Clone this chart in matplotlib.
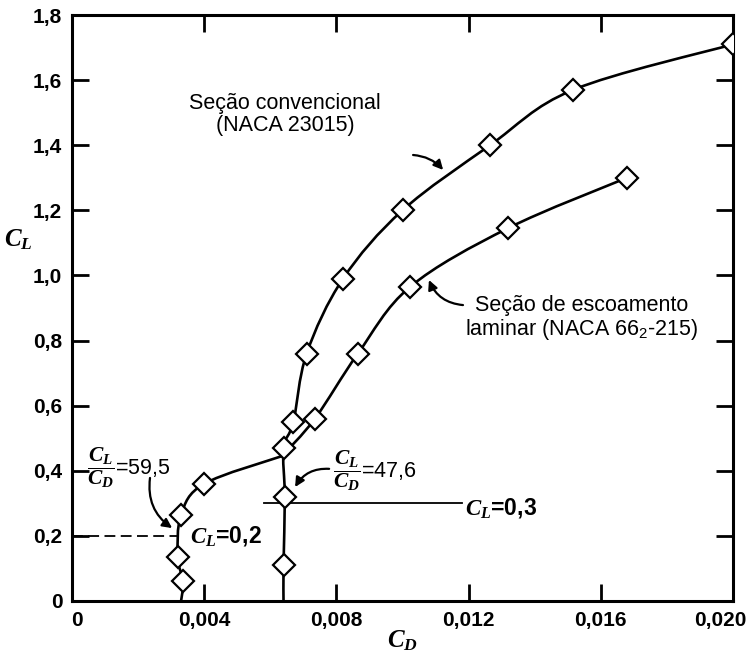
import matplotlib
matplotlib.use("Agg")
import matplotlib.pyplot as plt
from matplotlib.path import Path
from matplotlib.patches import PathPatch
from matplotlib.transforms import ScaledTranslation

plt.rcParams['font.family'] = ['Liberation Sans', 'DejaVu Sans']
plt.rcParams['mathtext.fontset'] = 'custom'
plt.rcParams['mathtext.it'] = 'Liberation Serif:italic:bold'
plt.rcParams['mathtext.rm'] = 'Liberation Sans'
plt.rcParams['mathtext.bf'] = 'Liberation Sans:bold'

# Conventional section (NACA 23015): curve starts on the axis (index 0 has no marker)
conv_cd = [0.0064, 0.0064, 0.00644, 0.0064, 0.0067, 0.0071, 0.0082, 0.0100, 0.01265, 0.01516, 0.0200]
conv_cl = [0.0, 0.11, 0.32, 0.47, 0.55, 0.76, 0.99, 1.20, 1.40, 1.57, 1.71]
conv_marks = [1, 2, 3, 4, 5, 6, 7, 8, 9, 10]
conv_pieces = [(0, 10)]

# Laminar flow section (NACA 66_2-215): index 0 is the axis start, index 5 the bucket corner
lam_cd = [0.0033, 0.00336, 0.0032, 0.0033, 0.0040, 0.00635, 0.00735, 0.00865, 0.01023, 0.01319, 0.01679]
lam_cl = [0.0, 0.06, 0.135, 0.265, 0.36, 0.445, 0.56, 0.76, 0.965, 1.145, 1.30]
lam_marks = [1, 2, 3, 4, 6, 7, 8, 9, 10]
lam_pieces = [(0, 5), (5, 10)]

# Reference lift lines
cl_02_x = [0.0, 0.0032]
cl_02_y = [0.2, 0.2]
cl_03_x = [0.0058, 0.0118]
cl_03_y = [0.3, 0.3]

xticks = [0, 0.004, 0.008, 0.012, 0.016, 0.020]
xticklabels = ['0', '0,004', '0,008', '0,012', '0,016', '0,020']
yticks = [0, 0.2, 0.4, 0.6, 0.8, 1.0, 1.2, 1.4, 1.6, 1.8]
yticklabels = ['0', '0,2', '0,4', '0,6', '0,8', '1,0', '1,2', '1,4', '1,6', '1,8']


def smooth_path(xs, ys):
    """Catmull-Rom curve through the given points, as cubic Bezier segments."""
    pts = list(zip(xs, ys))
    n = len(pts)
    verts = [pts[0]]
    codes = [Path.MOVETO]
    for i in range(n - 1):
        p0 = pts[i - 1] if i > 0 else pts[i]
        p1 = pts[i]
        p2 = pts[i + 1]
        p3 = pts[i + 2] if i + 2 < n else pts[i + 1]
        c1 = (p1[0] + (p2[0] - p0[0]) / 6.0, p1[1] + (p2[1] - p0[1]) / 6.0)
        c2 = (p2[0] - (p3[0] - p1[0]) / 6.0, p2[1] - (p3[1] - p1[1]) / 6.0)
        verts += [c1, c2, p2]
        codes += [Path.CURVE4] * 3
    return Path(verts, codes)


fig = plt.figure(figsize=(7.48, 6.54), dpi=100)
ax = fig.add_axes([72/748, 1-601/654, 661/748, 586/654])

for xs, ys, pieces in [(conv_cd, conv_cl, conv_pieces), (lam_cd, lam_cl, lam_pieces)]:
    for a, b in pieces:
        p = smooth_path(xs[a:b + 1], ys[a:b + 1])
        ax.add_patch(PathPatch(p, facecolor='none', edgecolor='black', lw=1.9,
                               transform=ax.transData, zorder=2))

mk = dict(marker='D', markersize=11, markerfacecolor='white', markeredgecolor='black',
          markeredgewidth=1.6, linestyle='none')
ax.plot([conv_cd[i] for i in conv_marks], [conv_cl[i] for i in conv_marks], zorder=3, **mk)
ax.plot([lam_cd[i] for i in lam_marks], [lam_cl[i] for i in lam_marks], zorder=3, **mk)

ax.plot(cl_02_x, cl_02_y, color='black', linewidth=1.3, linestyle=(0, (6, 3)), zorder=2)
ax.plot(cl_03_x, cl_03_y, color='black', linewidth=1.3, zorder=2)

ax.set_xlim(0, 0.020)
ax.set_ylim(0, 1.8)
ax.set_xticks(xticks)
ax.set_xticklabels(xticklabels)
ax.set_yticks(yticks)
ax.set_yticklabels(yticklabels)
ax.tick_params(direction='in', length=12, width=2, top=True, right=True,
               labelsize=15, pad=7)
for lab in ax.get_xticklabels() + ax.get_yticklabels():
    lab.set_fontweight('bold')
xl = ax.get_xticklabels()
xl[0].set_transform(xl[0].get_transform() + ScaledTranslation(5/100, 0, fig.dpi_scale_trans))
xl[-1].set_transform(xl[-1].get_transform() + ScaledTranslation(-13/100, 0, fig.dpi_scale_trans))
for s in ax.spines.values():
    s.set_linewidth(2.2)

ax.set_xlabel(r'$C_D$', fontsize=18, va='center')
ax.set_ylabel(r'$C_L$', fontsize=18, rotation=0, va='center', ha='center')
ax.xaxis.set_label_coords(0.5, -(641-601)/586)
ax.yaxis.set_label_coords((18-72)/661, (601-240)/586)

txt = dict(fontsize=15.5, color='black')
ax.text(0.00644, 1.495, 'Seção convencional\n(NACA 23015)', ha='center', va='center',
        linespacing=1.05, **txt)
ax.text(0.01543, 0.869, 'Seção de escoamento\nlaminar (NACA 66$_{\\mathrm{2}}$-215)',
        ha='center', va='center', linespacing=1.05, **txt)

ax.text(0.00045, 0.409, r'$\dfrac{C_L}{C_D}$=59,5', ha='left', va='center', fontsize=15.5)
ax.text(0.00790, 0.400, r'$\dfrac{C_L}{C_D}$=47,6', ha='left', va='center', fontsize=15.5)
ax.text(0.00357, 0.2, r'$C_L$=0,2', ha='left', va='center', fontsize=16.5, fontweight='bold')
ax.text(0.01189, 0.285, r'$C_L$=0,3', ha='left', va='center', fontsize=16.5, fontweight='bold')

arr = dict(arrowstyle='-|>', color='black', lw=1.6, mutation_scale=14, shrinkA=0, shrinkB=0)
ax.annotate('', xy=(0.01123, 1.324), xytext=(0.01032, 1.370),
            arrowprops=dict(connectionstyle='arc3,rad=-0.2', **arr))
ax.annotate('', xy=(0.0108, 0.986), xytext=(0.01183, 0.909),
            arrowprops=dict(connectionstyle='arc3,rad=-0.3', **arr))
ax.annotate('', xy=(0.00303, 0.224), xytext=(0.00236, 0.378),
            arrowprops=dict(connectionstyle='arc3,rad=0.3', **arr))
ax.annotate('', xy=(0.00675, 0.350), xytext=(0.00778, 0.406),
            arrowprops=dict(connectionstyle='arc3,rad=0.3', **arr))

fig.savefig('out.png', dpi=100)
